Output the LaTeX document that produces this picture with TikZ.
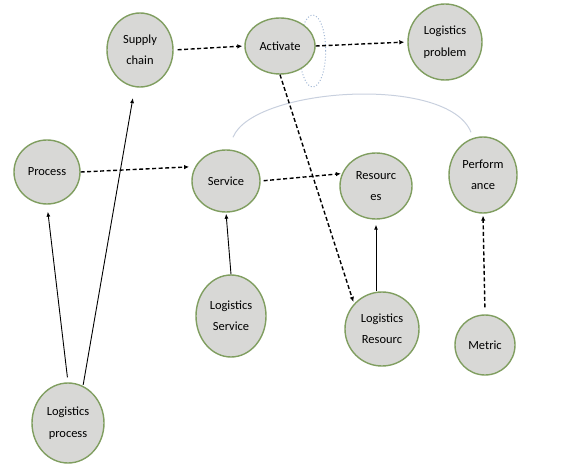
\documentclass[tikz,border=0pt]{standalone}
\usepackage{fontspec}
\setmainfont{Carlito}
\usetikzlibrary{shapes.geometric,arrows.meta,calc,backgrounds}
\definecolor{nodefill}{RGB}{216,216,214}
\definecolor{nodeline}{RGB}{128,158,96}
\definecolor{loopcol}{RGB}{160,182,212}
\definecolor{arccol}{RGB}{200,208,222}
\tikzset{
  cnode/.style={ellipse, draw=nodeline, line width=1.4bp, fill=nodefill, inner sep=0pt,
    align=center, font=\fontsize{12.5}{21.5}\selectfont, text=black},
  sol/.style={line width=0.9bp, -{Latex[length=5bp,width=4bp]}},
  dsh/.style={line width=1.4bp, dash pattern=on 4bp off 2.5bp, -{Latex[length=5bp,width=4.5bp]}},
}
\begin{document}
\begin{tikzpicture}[x=1bp,y=-1bp]
\useasboundingbox (0,0) rectangle (586,464);
\node[cnode, minimum width=66bp, minimum height=74bp] (sc) at (140,50) {Supply\\chain};
\node[cnode, minimum width=70bp, minimum height=56bp] (act) at (280,46) {Activate};
\node[cnode, minimum width=74bp, minimum height=76bp] (lp) at (445,42) {Logistics\\problem};
\node[cnode, minimum width=66bp, minimum height=64bp] (proc) at (47,172) {Process};
\node[cnode, minimum width=68bp, minimum height=62bp] (serv) at (226,181) {Service};
\node[cnode, minimum width=72bp, minimum height=66bp] (res) at (376,186) {Resourc\\es};
\node[cnode, minimum width=68bp, minimum height=76bp] (perf) at (483,175) {Perform\\ance};
\node[cnode, minimum width=70bp, minimum height=82bp] (ls) at (231,316) {Logistics\\Service};
\node[cnode, minimum width=74bp, minimum height=74bp] (lr) at (382,329) {Logistics\\Resourc};
\node[cnode, minimum width=60bp, minimum height=60bp] (met) at (485,345) {Metric};
\node[cnode, minimum width=72bp, minimum height=80bp] (lpr) at (68,423) {Logistics\\process};

\begin{pgfonlayer}{background}
\draw[loopcol, line width=1bp, dotted] ($(act.east)+(-3,5)$) ellipse [x radius=13bp, y radius=36bp];
\draw[arccol, line width=1bp] ($(serv.north)+(7,-12)$) .. controls ($(serv.north)+(27,-62)$) and ($(perf.north)+(-35,-62)$) .. ($(perf.north)+(-12,-4)$);
\end{pgfonlayer}

\draw[sol, shorten <=5bp, shorten >=7bp] (lpr.north) -- (proc.south);
\draw[sol, shorten <=1bp, shorten >=11bp] (lpr.68) -- (sc.262);
\draw[sol, shorten >=1bp] (ls.north) -- (serv.south);
\draw[sol, shorten >=5bp] (lr.north -| res.south) -- (res.south);
\draw[dsh, shorten <=7bp, shorten >=2bp] (met.north) -- (perf.south);
\draw[dsh, shorten <=4bp, shorten >=2bp] (sc.east) -- (act.west);
\draw[dsh, shorten >=3bp] (act.east) -- (lp.west);
\draw[dsh, shorten >=6bp] (proc.east) -- (serv.155);
\draw[dsh, shorten <=3bp, shorten >=1bp] (serv.east) -- (res.160);
\draw[dsh, shorten >=2bp] (act.south) -- (lr.138);
\end{tikzpicture}
\end{document}
